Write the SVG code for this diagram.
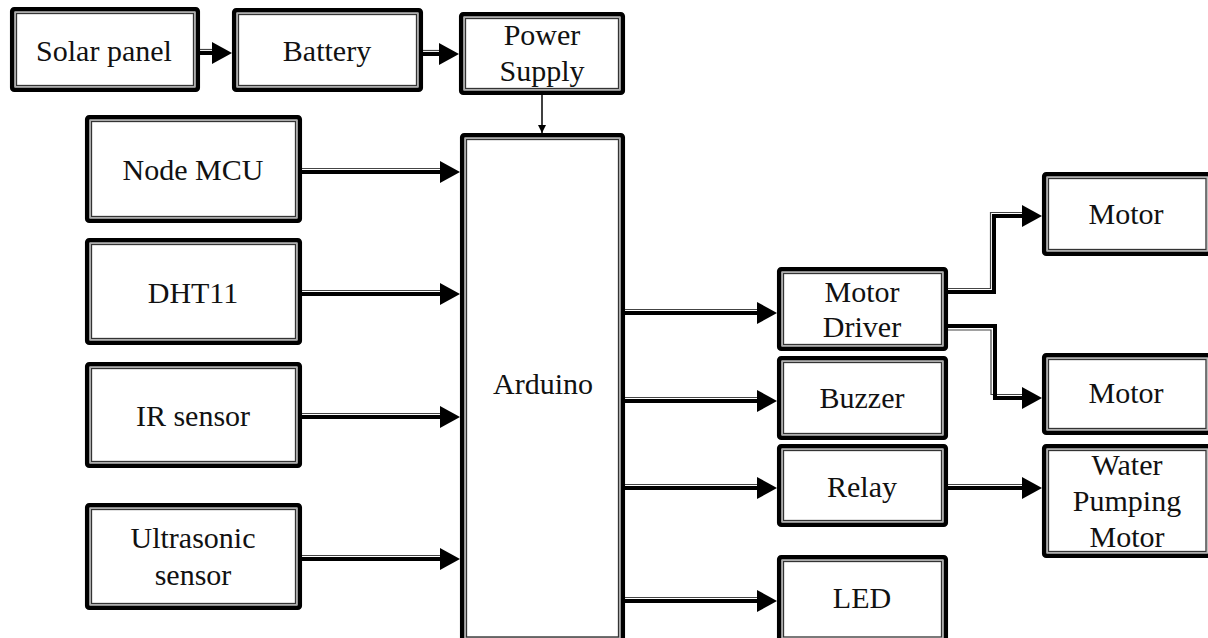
<svg xmlns="http://www.w3.org/2000/svg" width="1208" height="638" viewBox="0 0 1208 638">
<style>
.o{fill:#fff;stroke:#000;stroke-width:4.5}
.m{fill:none;stroke:#aaa;stroke-width:1}
.i{fill:none;stroke:#333;stroke-width:1.3}
.t{font-family:"Liberation Serif","Times New Roman",Tinos,"Nimbus Roman","Noto Serif","DejaVu Serif",serif;font-size:30px;fill:#111;text-anchor:middle}
.tk{fill:none;stroke:#000;stroke-width:4;marker-end:url(#ah)}
.tn{fill:none;stroke:#444;stroke-width:1.2}
.th{fill:none;stroke:#000;stroke-width:1.5;marker-end:url(#sa)}
</style>
<defs>
<marker id="ah" viewBox="0 0 20 22" markerWidth="20" markerHeight="22" refX="8" refY="11" orient="auto" markerUnits="userSpaceOnUse"><path d="M0,0 L20,11 L0,22 z" fill="#000"/></marker>
<marker id="sa" viewBox="0 0 8 8" markerWidth="8" markerHeight="8" refX="8" refY="4" orient="auto" markerUnits="userSpaceOnUse"><path d="M0,0 L8,4 L0,8 z" fill="#000"/></marker>
</defs>
<rect width="1208" height="638" fill="#fff"/>
<g id="connectors">
<line class="tn" x1="200" y1="49.5" x2="214" y2="49.5"/><path class="tk" d="M200,53 H220"/>
<line class="tn" x1="423" y1="50.5" x2="441" y2="50.5"/><path class="tk" d="M423,54 H447"/>
<path class="th" d="M542,95 V133"/>
<line class="tn" x1="302" y1="168.5" x2="442" y2="168.5"/><path class="tk" d="M302,172 H448"/>
<line class="tn" x1="302" y1="290.5" x2="442" y2="290.5"/><path class="tk" d="M302,294 H448"/>
<line class="tn" x1="302" y1="413.5" x2="442" y2="413.5"/><path class="tk" d="M302,417 H448"/>
<line class="tn" x1="302" y1="555.5" x2="442" y2="555.5"/><path class="tk" d="M302,559 H448"/>
<line class="tn" x1="625" y1="309.5" x2="759" y2="309.5"/><path class="tk" d="M625,313 H765"/>
<line class="tn" x1="625" y1="397.5" x2="759" y2="397.5"/><path class="tk" d="M625,401 H765"/>
<line class="tn" x1="625" y1="484.5" x2="759" y2="484.5"/><path class="tk" d="M625,488 H765"/>
<line class="tn" x1="625" y1="597.5" x2="759" y2="597.5"/><path class="tk" d="M625,601 H765"/>
<line class="tn" x1="948" y1="484.5" x2="1024" y2="484.5"/><path class="tk" d="M948,488 H1030"/>
<path class="tn" d="M948,288.5 H990.5 V212.5 H1024"/><path class="tk" d="M948,292 H994 V216 H1030"/>
<path class="tn" d="M948,330 H991 V394.5 H1024"/><path class="tk" d="M948,326 H995 V398 H1030"/>
</g>
<g id="solar"><rect class="o" x="12.2" y="9.2" width="185.6" height="80.6" rx="2"/><rect class="m" x="15.2" y="12.2" width="179.6" height="74.6"/><rect class="i" x="16.5" y="13.5" width="177" height="72"/><text class="t" x="104" y="61">Solar panel</text></g>
<g id="battery"><rect class="o" x="234.2" y="10.2" width="186.6" height="79.6" rx="2"/><rect class="m" x="237.2" y="13.2" width="180.6" height="73.6"/><rect class="i" x="238.5" y="14.5" width="178" height="71"/><text class="t" x="327" y="61">Battery</text></g>
<g id="power"><rect class="o" x="461.2" y="14.2" width="161.6" height="78.6" rx="2"/><rect class="m" x="464.2" y="17.2" width="155.6" height="72.6"/><rect class="i" x="465.5" y="18.5" width="153" height="70"/><text class="t" x="542" y="45">Power</text><text class="t" x="542" y="81">Supply</text></g>
<g id="nodemcu"><rect class="o" x="87.2" y="117.2" width="212.6" height="103.6" rx="2"/><rect class="m" x="90.2" y="120.2" width="206.6" height="97.6"/><rect class="i" x="91.5" y="121.5" width="204" height="95"/><text class="t" x="193" y="180">Node MCU</text></g>
<g id="dht11"><rect class="o" x="87.2" y="240.2" width="212.6" height="102.6" rx="2"/><rect class="m" x="90.2" y="243.2" width="206.6" height="96.6"/><rect class="i" x="91.5" y="244.5" width="204" height="94"/><text class="t" x="193" y="303">DHT11</text></g>
<g id="ir"><rect class="o" x="87.2" y="364.2" width="212.6" height="101.6" rx="2"/><rect class="m" x="90.2" y="367.2" width="206.6" height="95.6"/><rect class="i" x="91.5" y="368.5" width="204" height="93"/><text class="t" x="193" y="426">IR sensor</text></g>
<g id="ultrasonic"><rect class="o" x="87.2" y="505.2" width="212.6" height="102.6" rx="2"/><rect class="m" x="90.2" y="508.2" width="206.6" height="96.6"/><rect class="i" x="91.5" y="509.5" width="204" height="94"/><text class="t" x="193" y="548">Ultrasonic</text><text class="t" x="193" y="585">sensor</text></g>
<g id="arduino"><rect class="o" x="462.2" y="135.2" width="160.6" height="505" rx="2"/><rect class="m" x="465.2" y="138.2" width="154.6" height="499"/><rect class="i" x="466.5" y="139.5" width="152" height="497.5"/><text class="t" x="543" y="394">Arduino</text></g>
<g id="motordriver"><rect class="o" x="779.2" y="269.2" width="166.6" height="79.6" rx="2"/><rect class="m" x="782.2" y="272.2" width="160.6" height="73.6"/><rect class="i" x="783.5" y="273.5" width="158" height="71"/><text class="t" x="862" y="302">Motor</text><text class="t" x="862" y="337">Driver</text></g>
<g id="buzzer"><rect class="o" x="779.2" y="358.2" width="166.6" height="79.6" rx="2"/><rect class="m" x="782.2" y="361.2" width="160.6" height="73.6"/><rect class="i" x="783.5" y="362.5" width="158" height="71"/><text class="t" x="862" y="408">Buzzer</text></g>
<g id="relay"><rect class="o" x="779.2" y="446.2" width="166.6" height="78.6" rx="2"/><rect class="m" x="782.2" y="449.2" width="160.6" height="72.6"/><rect class="i" x="783.5" y="450.5" width="158" height="70"/><text class="t" x="862" y="497">Relay</text></g>
<g id="led"><rect class="o" x="779.2" y="557.2" width="166.6" height="85" rx="2"/><rect class="m" x="782.2" y="560.2" width="160.6" height="79"/><rect class="i" x="783.5" y="561.5" width="158" height="75.5"/><text class="t" x="862" y="608">LED</text></g>
<g id="motor1"><rect class="o" x="1044.2" y="174.2" width="166" height="79.6" rx="2"/><rect class="m" x="1047.2" y="177.2" width="160" height="73.6"/><rect class="i" x="1048.5" y="178.5" width="157.5" height="71"/><text class="t" x="1126" y="224">Motor</text></g>
<g id="motor2"><rect class="o" x="1044.2" y="355.2" width="166" height="77.6" rx="2"/><rect class="m" x="1047.2" y="358.2" width="160" height="71.6"/><rect class="i" x="1048.5" y="359.5" width="157.5" height="69"/><text class="t" x="1126" y="403">Motor</text></g>
<g id="water"><rect class="o" x="1044.2" y="446.2" width="166" height="109.6" rx="2"/><rect class="m" x="1047.2" y="449.2" width="160" height="103.6"/><rect class="i" x="1048.5" y="450.5" width="157.5" height="101"/><text class="t" x="1127" y="475">Water</text><text class="t" x="1127" y="511">Pumping</text><text class="t" x="1127" y="547">Motor</text></g>
</svg>
